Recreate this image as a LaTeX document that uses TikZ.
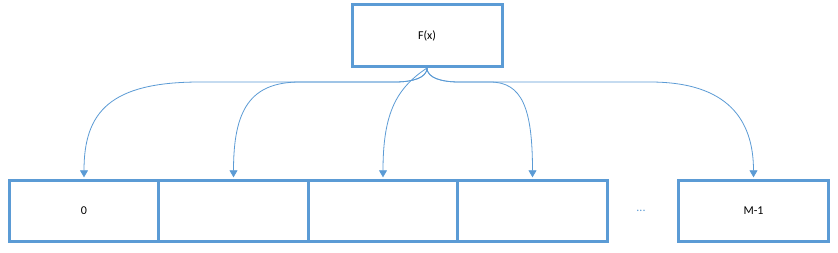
\documentclass[tikz,border=0pt]{standalone}
\usepackage{fontspec}
\setmainfont{Carlito}
\usetikzlibrary{arrows.meta}
\definecolor{obl}{RGB}{91,155,213}
\begin{document}
\begin{tikzpicture}[x=1pt,y=-1pt,
  cell/.style={draw=obl,line width=3pt,fill=white,minimum width=149.5pt,minimum height=61pt,inner sep=0pt,font=\fontsize{12}{14}\selectfont},
  topbox/.style={draw=obl,line width=3pt,fill=white,minimum width=150pt,minimum height=62pt,inner sep=0pt,font=\fontsize{12}{14}\selectfont},
  conn/.style={draw=obl,line width=0.8pt,-{Triangle[width=8pt,length=7pt]},shorten >=1.2pt}]
\useasboundingbox[fill=white] (0,0) rectangle (838,252);
\node[topbox] (F) at (427,35.5) {F(x)};
\node[cell] (c0) at (84,210.5) {0};
\node[cell] (c1) at (233.5,210.5) {};
\node[cell] (c2) at (383,210.5) {};
\node[cell] (c3) at (532.5,210.5) {};
\node[cell] (cm) at (753.5,210.5) {M-1};
\node[text=obl,font=\fontsize{12}{14}\selectfont] (dots) at (641,211) {...};
\coordinate (s) at (F.south);
\coordinate (hl) at (395,82);
\coordinate (hr) at (459,82);
\draw[conn] (s) .. controls (427,78) and (412,82) .. (hl) -- (200,82) .. controls (110,82) and (84,112) .. (c0.north);
\draw[conn] (s) .. controls (427,78) and (412,82) .. (hl) -- (300,82) .. controls (250,82) and (233.5,110) .. (c1.north);
\draw[conn] (s) .. controls (397,88) and (383,112) .. (c2.north);
\draw[conn] (s) .. controls (427,78) and (442,82) .. (hr) -- (490,82) .. controls (522,82) and (532.5,108) .. (c3.north);
\draw[conn] (s) .. controls (427,78) and (442,82) .. (hr) -- (650,82) .. controls (728,82) and (753.5,120) .. (cm.north);
\end{tikzpicture}
\end{document}
